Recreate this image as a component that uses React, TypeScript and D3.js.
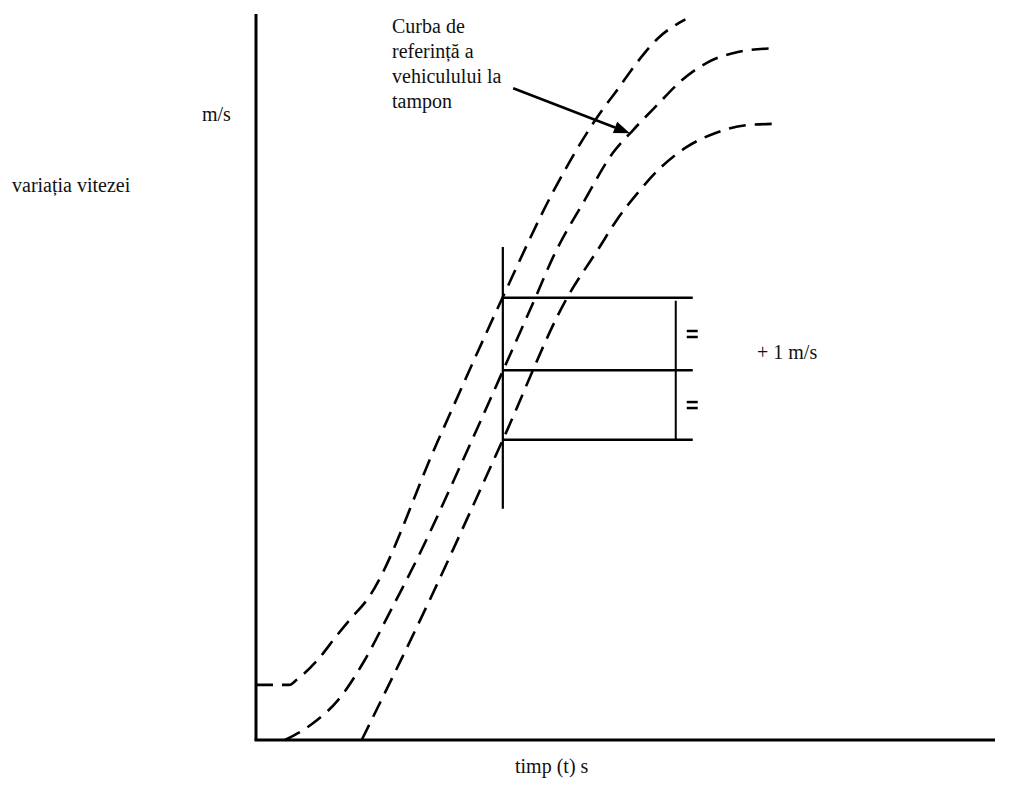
import React from 'react';
import * as d3 from 'd3';

// time (arbitrary units) and speed (arbitrary units)
const upperCurve: [number, number][] = [
  [0, 7.6], [4.5, 7.6], [5.5, 8.3], [8.3, 11.0], [11.0, 14.5], [12.7, 16.6], [15.0, 19.3],
  [24.5, 41.0], [33.4, 61.1], [40.2, 75.6], [46.1, 85.8], [48.9, 89.7], [51.6, 93.5],
  [54.4, 96.8], [58.1, 99.4],
];
const referenceCurve: [number, number][] = [
  [3.9, 0], [7.7, 2.3], [11.1, 5.5], [14.7, 11.0], [18.1, 17.6], [22.2, 25.8], [27.6, 37.7],
  [33.4, 50.9], [37.8, 61.0], [40.2, 66.6], [44.5, 74.5], [48.3, 81.0], [51.0, 84.1],
  [54.3, 87.6], [57.4, 90.8], [61.0, 93.4], [65.2, 94.9], [69.8, 95.4],
];
const lowerCurve: [number, number][] = [
  [14.3, 0], [23.5, 19.3], [33.4, 41.4], [42.1, 61.0], [46.5, 68.0], [48.8, 71.7],
  [51.6, 75.4], [54.7, 78.9], [58.3, 81.8], [62.1, 83.7], [66.4, 84.8], [70.5, 85.0],
];

const checkTime = 33.4;
const bandLevels = [61.0, 51.0, 41.4];
const checkSpan = [31.9, 68.0];
const bandEnd = 59.1;
const bracketTime = 56.8;
const arrowFrom: [number, number] = [34.8, 89.9];
const arrowTo: [number, number] = [50.6, 83.7];

const labelLines = ['Curba de', 'referință a', 'vehiculului la', 'tampon'];

const W = 1009;
const H = 787;
const font = "'Liberation Serif', 'DejaVu Serif', serif";

export default function App() {
  const x = d3.scaleLinear().domain([0, 100]).range([256, 995]);
  const y = d3.scaleLinear().domain([0, 100]).range([740, 15]);

  const line = d3.line<[number, number]>()
    .x(d => x(d[0]))
    .y(d => y(d[1]))
    .curve(d3.curveMonotoneX);

  const curves = [upperCurve, referenceCurve, lowerCurve];
  const mids = [(bandLevels[0] + bandLevels[1]) / 2, (bandLevels[1] + bandLevels[2]) / 2];

  // arrow head
  const ax1 = x(arrowFrom[0]), ay1 = y(arrowFrom[1]);
  const ax2 = x(arrowTo[0]), ay2 = y(arrowTo[1]);
  const ang = Math.atan2(ay2 - ay1, ax2 - ax1);
  const hl = 16, hw = 6;
  const bx = ax2 - hl * Math.cos(ang), by = ay2 - hl * Math.sin(ang);
  const head = `M${ax2},${ay2}L${bx + hw * Math.sin(ang)},${by - hw * Math.cos(ang)}L${bx - hw * Math.sin(ang)},${by + hw * Math.cos(ang)}Z`;

  const textStyle = { fontFamily: font, fontSize: 20 };

  return (
    <svg width={W} height={H} style={{ position: 'absolute', left: 0, top: 0, background: '#fff' }}>
      {/* axes */}
      <line x1={x(0)} x2={x(0)} y1={y(100) - 1} y2={y(0)} stroke="#000" strokeWidth={3} />
      <line x1={x(0) - 1.5} x2={x(100)} y1={y(0)} y2={y(0)} stroke="#000" strokeWidth={3} />

      {curves.map((c, i) => (
        <path key={i} d={line(c) ?? ''} fill="none" stroke="#000" strokeWidth={2.6}
          strokeDasharray="17 9" />
      ))}

      {/* tolerance band at check time */}
      <line x1={x(checkTime)} x2={x(checkTime)} y1={y(checkSpan[1])} y2={y(checkSpan[0])}
        stroke="#000" strokeWidth={2.2} />
      {bandLevels.map((v, i) => (
        <line key={i} x1={x(checkTime)} x2={x(bandEnd)} y1={y(v)} y2={y(v)} stroke="#000" strokeWidth={2.5} />
      ))}
      <line x1={x(bracketTime)} x2={x(bracketTime)} y1={y(bandLevels[0]) + 3} y2={y(bandLevels[2])}
        stroke="#000" strokeWidth={2} />
      {mids.map((v, i) => (
        <g key={i} stroke="#000" strokeWidth={2.5}>
          <line x1={x(bandEnd) - 6} x2={x(bandEnd) + 5} y1={y(v) - 3} y2={y(v) - 3} />
          <line x1={x(bandEnd) - 6} x2={x(bandEnd) + 5} y1={y(v) + 3} y2={y(v) + 3} />
        </g>
      ))}

      {/* arrow */}
      <line x1={ax1} y1={ay1} x2={bx} y2={by} stroke="#000" strokeWidth={2.6} />
      <path d={head} fill="#000" />

      {/* labels */}
      <g style={textStyle} fill="#111">
        <text x={392} y={33}>
          {labelLines.map((t, i) => (
            <tspan key={i} x={392} dy={i === 0 ? 0 : 25}>{t}</tspan>
          ))}
        </text>
        <text x={202} y={121}>m/s</text>
        <text x={12} y={192}>variația vitezei</text>
        <text x={757} y={359}>+ 1 m/s</text>
        <text x={515} y={773}>timp (t) s</text>
      </g>
    </svg>
  );
}
